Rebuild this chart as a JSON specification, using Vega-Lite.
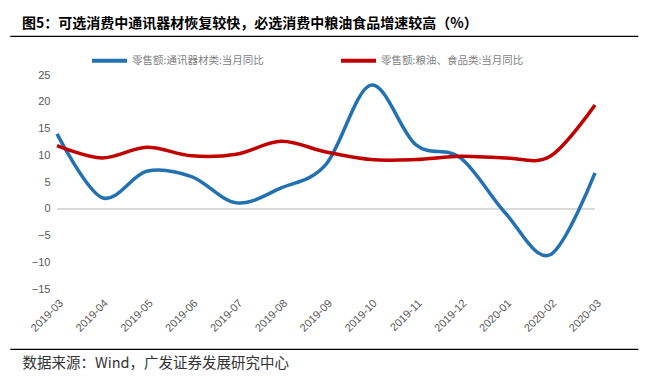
{
  "$schema": "https://vega.github.io/schema/vega-lite/v6.json",
  "width": 628,
  "height": 313,
  "autosize": {"type": "none"},
  "padding": {"left": 10, "top": 36, "right": 11, "bottom": 32},
  "background": "#ffffff",
  "config": {
    "view": {"stroke": "#000000", "strokeWidth": 1.2, "strokeDash": [628, 313]},
    "font": "Noto Sans CJK SC",
    "axisX": {
      "offset": -60,
      "domain": false,
      "ticks": false,
      "grid": false,
      "labelAngle": -45,
      "labelPadding": 8,
      "labelOverlap": false,
      "labelFont": "Liberation Sans",
      "labelFontSize": 11,
      "labelColor": "#595959",
      "titleX": 12,
      "titleY": 74,
      "titleAlign": "left",
      "titleAnchor": "start",
      "titleBaseline": "middle",
      "titleFont": "Noto Sans CJK SC",
      "titleFontSize": 14.5,
      "titleFontWeight": "normal",
      "titleColor": "#333333"
    },
    "axisY": {
      "offset": -47,
      "domain": false,
      "ticks": false,
      "grid": false,
      "labelPadding": 7,
      "labelOverlap": false,
      "labelFont": "Liberation Sans",
      "labelFontSize": 11,
      "labelColor": "#595959"
    }
  },
  "title": {
    "text": "图5：可选消费中通讯器材恢复较快，必选消费中粮油食品增速较高（%）",
    "orient": "top",
    "anchor": "start",
    "frame": "group",
    "dx": 12,
    "offset": -2,
    "baseline": "middle",
    "font": "Noto Sans CJK SC",
    "fontSize": 14,
    "fontWeight": "bold",
    "color": "#000000"
  },
  "datasets": {
    "series": [
      {"month": "2019-03", "series": "零售额:通讯器材类:当月同比", "value": 14.0},
      {"month": "2019-04", "series": "零售额:通讯器材类:当月同比", "value": 2.1},
      {"month": "2019-05", "series": "零售额:通讯器材类:当月同比", "value": 7.0},
      {"month": "2019-06", "series": "零售额:通讯器材类:当月同比", "value": 6.0},
      {"month": "2019-07", "series": "零售额:通讯器材类:当月同比", "value": 1.1},
      {"month": "2019-08", "series": "零售额:通讯器材类:当月同比", "value": 3.9},
      {"month": "2019-09", "series": "零售额:通讯器材类:当月同比", "value": 8.3},
      {"month": "2019-10", "series": "零售额:通讯器材类:当月同比", "value": 23.1},
      {"month": "2019-11", "series": "零售额:通讯器材类:当月同比", "value": 12.0},
      {"month": "2019-12", "series": "零售额:通讯器材类:当月同比", "value": 9.5},
      {"month": "2020-01", "series": "零售额:通讯器材类:当月同比", "value": -0.8},
      {"month": "2020-02", "series": "零售额:通讯器材类:当月同比", "value": -8.6},
      {"month": "2020-03", "series": "零售额:通讯器材类:当月同比", "value": 6.7},
      {"month": "2019-03", "series": "零售额:粮油、食品类:当月同比", "value": 11.8},
      {"month": "2019-04", "series": "零售额:粮油、食品类:当月同比", "value": 9.5},
      {"month": "2019-05", "series": "零售额:粮油、食品类:当月同比", "value": 11.5},
      {"month": "2019-06", "series": "零售额:粮油、食品类:当月同比", "value": 9.9},
      {"month": "2019-07", "series": "零售额:粮油、食品类:当月同比", "value": 10.2},
      {"month": "2019-08", "series": "零售额:粮油、食品类:当月同比", "value": 12.6},
      {"month": "2019-09", "series": "零售额:粮油、食品类:当月同比", "value": 10.6},
      {"month": "2019-10", "series": "零售额:粮油、食品类:当月同比", "value": 9.2},
      {"month": "2019-11", "series": "零售额:粮油、食品类:当月同比", "value": 9.2},
      {"month": "2019-12", "series": "零售额:粮油、食品类:当月同比", "value": 9.8},
      {"month": "2020-01", "series": "零售额:粮油、食品类:当月同比", "value": 9.5},
      {"month": "2020-02", "series": "零售额:粮油、食品类:当月同比", "value": 9.8},
      {"month": "2020-03", "series": "零售额:粮油、食品类:当月同比", "value": 19.4}
    ]
  },
  "data": {"name": "series"},
  "layer": [
    {
      "mark": {"type": "rule", "color": "#d9d9d9", "strokeWidth": 1},
      "encoding": {
        "x": {"datum": "2019-03", "type": "ordinal", "axis": {"title": "数据来源：Wind，广发证券发展研究中心"}},
        "x2": {"datum": "2020-03"},
        "y": {"datum": 0, "type": "quantitative", "axis": {"values": [-15, -10, -5, 0, 5, 10, 15, 20, 25], "title": null}}
      }
    },
    {
      "mark": {"type": "line", "interpolate": "cardinal", "tension": 0, "strokeWidth": 3.5, "strokeCap": "butt"},
      "encoding": {
        "x": {
          "field": "month",
          "type": "ordinal",
          "scale": {"type": "point", "padding": 0, "range": [47, 585]},
          "axis": {"title": "数据来源：Wind，广发证券发展研究中心"}
        },
        "y": {
          "field": "value",
          "type": "quantitative",
          "scale": {"domain": [-15, 25], "range": [253, 39], "nice": false, "zero": false},
          "axis": {"values": [-15, -10, -5, 0, 5, 10, 15, 20, 25], "title": null}
        },
        "color": {
          "field": "series",
          "type": "nominal",
          "sort": ["零售额:通讯器材类:当月同比", "零售额:粮油、食品类:当月同比"],
          "scale": {
            "domain": ["零售额:通讯器材类:当月同比", "零售额:粮油、食品类:当月同比"],
            "range": ["#2271B1", "#C00000"]
          },
          "legend": {
            "orient": "none",
            "legendX": 80,
            "legendY": 5,
            "direction": "horizontal",
            "title": null,
            "symbolType": "stroke",
            "symbolSize": 1225,
            "symbolStrokeWidth": 4,
            "labelFont": "Noto Sans CJK SC",
            "labelFontSize": 10.5,
            "labelColor": "#7f7f7f",
            "labelOffset": 3,
            "columnPadding": 69
          }
        }
      }
    }
  ]
}
